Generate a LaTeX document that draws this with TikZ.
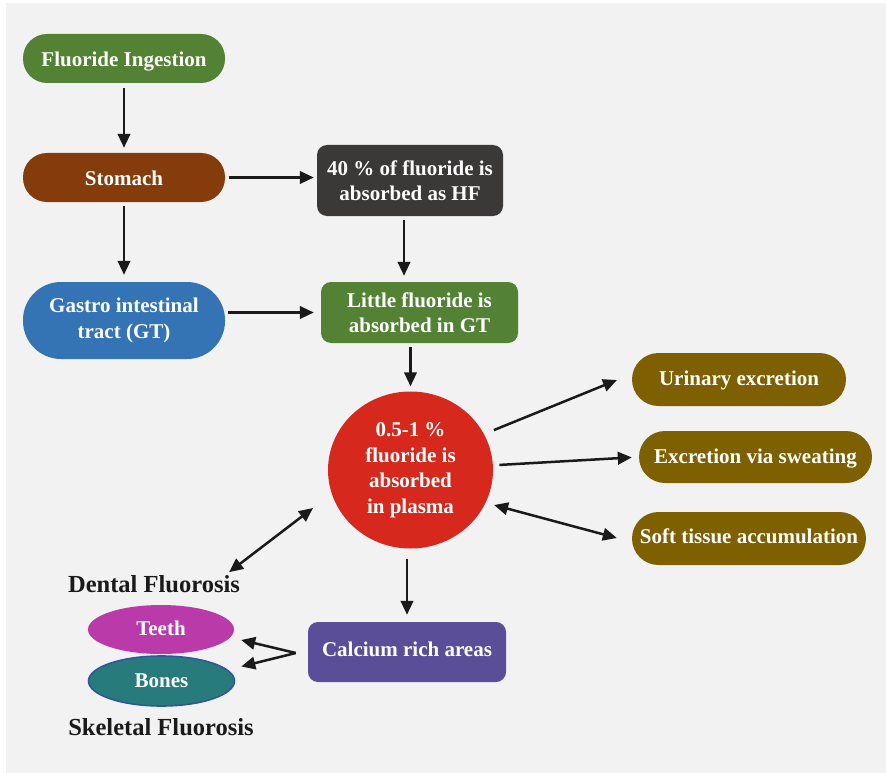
\documentclass[tikz,border=0pt]{standalone}
\usepackage{fontspec}
\setmainfont{Liberation Serif}
\usetikzlibrary{arrows.meta,shapes.geometric,calc}

\definecolor{panel}{HTML}{F2F2F2}
\definecolor{cgreen}{HTML}{548235}
\definecolor{cbrown}{HTML}{843C0C}
\definecolor{cdark}{HTML}{3B3838}
\definecolor{cblue}{HTML}{3474B5}
\definecolor{cred}{HTML}{D6281D}
\definecolor{colive}{HTML}{7F6000}
\definecolor{cmagenta}{HTML}{BB3AAA}
\definecolor{cteal}{HTML}{277B7B}
\definecolor{cteallin}{HTML}{3355A0}
\definecolor{cpurple}{HTML}{5B4E99}
\definecolor{cink}{HTML}{1A1A1A}

\tikzset{
  txt/.style={text=white, font=\fontsize{21}{25.5}\selectfont\bfseries,
    align=center, inner sep=0pt},
  % one-line text: baseline sits half of #1 below the centre
  oneline/.style={text height=#1, text depth=0pt},
  pill/.style={txt, rectangle, rounded corners=#1},
  pill/.default=24pt,
  box/.style={txt, rectangle, rounded corners=10pt},
  oval/.style={txt, ellipse},
  label/.style={text=cink, font=\fontsize{24.5}{28}\selectfont\bfseries, inner sep=0pt},
  arr/.style={draw=cink, line width=2.5pt, -{Triangle[length=14pt,width=12.5pt]}},
  darr/.style={draw=cink, line width=2.5pt,
    {Triangle[length=14pt,width=12.5pt]}-{Triangle[length=14pt,width=12.5pt]}},
}

\begin{document}
\begin{tikzpicture}[x=1pt, y=-1pt]
  % page and panel
  \useasboundingbox (0,0) rectangle (886,773);
  \fill[white] (0,0) rectangle (886,773);
  \fill[panel] (6,3) rectangle (886,773);

  % intake path
  \node[pill, oneline=16pt, fill=cgreen, minimum width=202pt, minimum height=49pt] (fi) at (124,58.5) {Fluoride Ingestion};
  \node[pill, oneline=16pt, fill=cbrown, minimum width=202pt, minimum height=49pt] (st) at (124,177.5) {Stomach};
  \node[box, fill=cdark, minimum width=186pt, minimum height=71pt] (hf) at (410,180.5) {40 \% of fluoride is\\absorbed as HF};
  \node[pill=38pt, fill=cblue, minimum width=202pt, minimum height=77pt] (gt) at (124,320.5) {Gastro intestinal\\tract (GT)};
  \node[box, fill=cgreen, minimum width=197pt, minimum height=61pt] (lf) at (419.5,312.5) {Little fluoride is\\absorbed in GT};

  % plasma
  \node[oval, fill=cred, minimum width=165pt, minimum height=157pt] (pl) at (410.5,470) {0.5-1 \%\\fluoride is\\absorbed\\in plasma};

  % excretion and accumulation
  \node[pill=26.5pt, oneline=11.5pt, fill=colive, minimum width=214pt, minimum height=53pt] (ur) at (739,379.5) {Urinary excretion};
  \node[pill=26pt, oneline=12.5pt, fill=colive, minimum width=233pt, minimum height=52pt] (sw) at (755.5,457) {Excretion via sweating};
  \node[pill=26.5pt, oneline=10pt, fill=colive, minimum width=234pt, minimum height=53pt] (sf) at (749,538.5) {Soft tissue accumulation};

  % calcium rich areas
  \node[box, oneline=9.5pt, fill=cpurple, minimum width=198pt, minimum height=60pt] (ca) at (407,652) {Calcium rich areas};
  \node[label] (dl) at (154,584) {Dental Fluorosis};
  \node[oval, oneline=12.4pt, fill=cmagenta, minimum width=146pt, minimum height=49pt] (te) at (161,629.5) {Teeth};
  \node[oval, oneline=13.4pt, fill=cteal, draw=cteallin, line width=1.6pt, minimum width=146pt, minimum height=50pt] (bo) at (161.5,681) {Bones};
  \node[label] (sl) at (161,727) {Skeletal Fluorosis};

  % connectors
  \draw[arr, shorten <=5pt, shorten >=5pt] (fi.south) -- (st.north);
  \draw[arr, shorten <=4pt, shorten >=7pt] (st.south) -- (gt.north);
  \draw[arr, shorten <=4pt, shorten >=3pt] (st.east) -- (st.east -| hf.west);
  \draw[arr, shorten <=4pt, shorten >=6pt] ([xshift=-6pt]hf.south) -- ([xshift=-6pt]hf.south |- lf.north);
  \draw[arr, shorten <=3pt, shorten >=7pt] (gt.east |- lf.west) -- (lf.west);
  \draw[arr, shorten <=4pt, shorten >=5pt] (pl.north |- lf.south) -- (pl.north);
  \draw[arr, shorten <=90pt, shorten >=16pt] ([yshift=6pt]pl.center) -- ([yshift=5.5pt]ur.west);
  \draw[arr, shorten <=89pt, shorten >=7pt] (pl.center) -- (sw.west);
  \draw[darr, shorten <=86.5pt, shorten >=15.5pt] ([yshift=-12.6pt]pl.center) -- ([yshift=-3.5pt]sf.west);
  \draw[darr] ($(pl.center)+(-97.5,38)$) -- ($(dl.north east)+(-11,-3)$);
  \draw[arr, shorten <=10pt, shorten >=7pt] ([xshift=-3.5pt]pl.south) -- ([xshift=-3.5pt]pl.south |- ca.north);
  \coordinate (fork) at ($(ca.west)+(-12,1)$);
  \draw[arr] (fork) -- ($(te.east)+(7,10.5)$);
  \draw[arr] (fork) -- ($(bo.east)+(6,-14.5)$);
\end{tikzpicture}
\end{document}
